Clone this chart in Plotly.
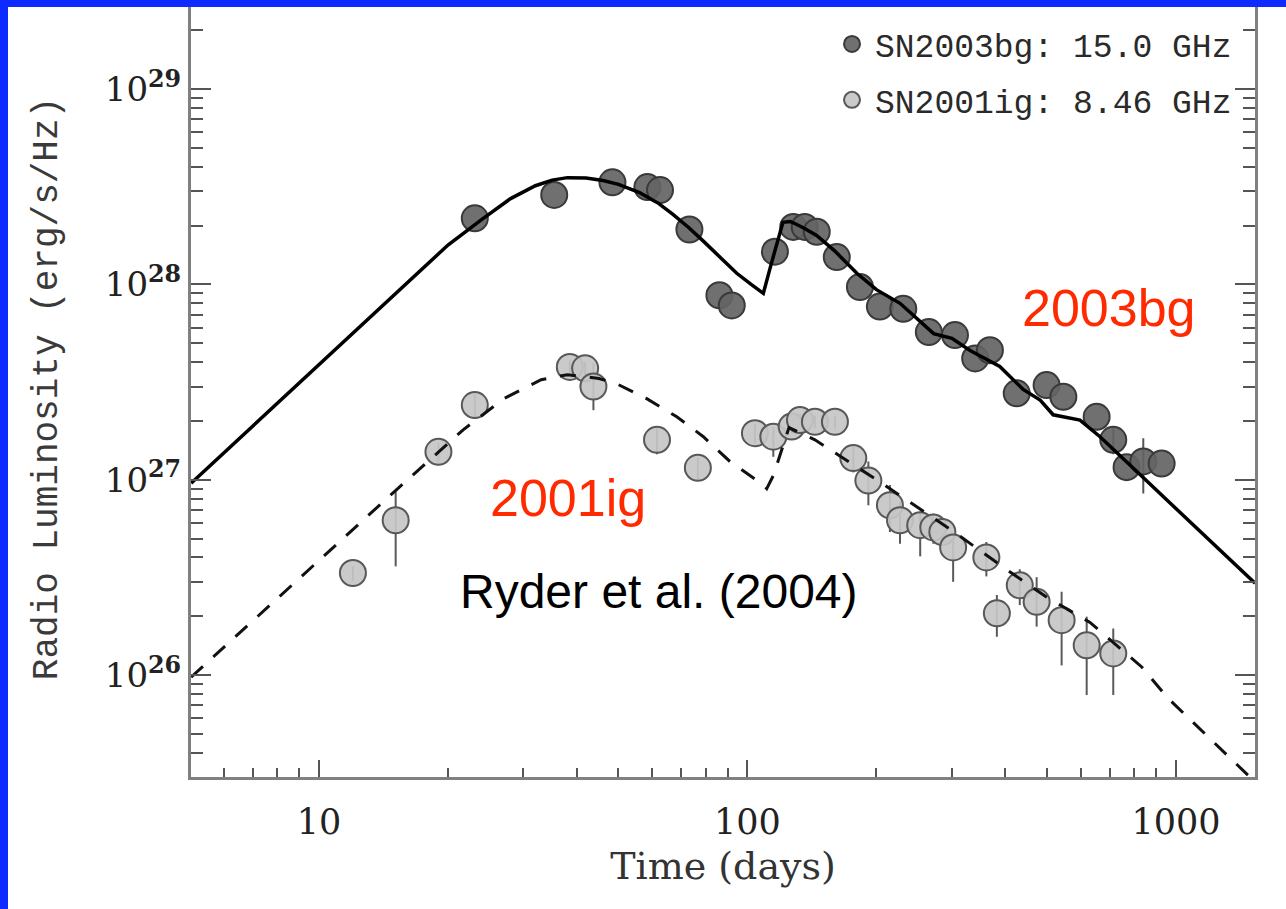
import plotly.graph_objects as go

# ---------------- data ----------------
# SN2003bg, 15.0 GHz
bg_days = [23.1, 35.4, 48.4, 58.4, 62.5, 73.2, 86.0, 91.9, 115.9, 127.9, 136, 145.1,
           161.6, 183, 203.7, 231, 265, 305, 340, 368, 425, 499, 546, 653, 714,
           767, 839, 926]
bg_lum = [2.18e28, 2.87e28, 3.33e28, 3.15e28, 3.04e28, 1.91e28, 8.8e27, 7.8e27,
          1.47e28, 1.97e28, 1.97e28, 1.86e28, 1.38e28, 9.7e27, 7.7e27, 7.5e27,
          5.7e27, 5.5e27, 4.18e27, 4.6e27, 2.77e27, 3.05e27, 2.66e27, 2.1e27,
          1.6e27, 1.16e27, 1.24e27, 1.21e27]
bg_err_hi = [0, 0, 0, 0, 0, 0, 0, 0, 0, 0, 0, 0, 0, 0, 0, 0, 0, 0, 0, 0,
             0, 0, 0, 0, 0.25e27, 0, 0.39e27, 0]
bg_err_lo = [0, 0, 0, 0, 0, 0, 0, 0, 0, 0, 0, 0, 0, 0, 0, 0, 0, 0, 0, 0,
             0, 0, 0, 0, 0.25e27, 0, 0.39e27, 0]

# SN2001ig, 8.46 GHz
ig_days = [12.0, 15.1, 19.0, 23.1, 38.5, 41.8, 43.7, 61.5, 76.6, 104.1, 114.9,
           126.8, 132.6, 143.7, 160, 176.6, 191.5, 215, 227, 253, 271.5, 285,
           302, 361, 382, 432, 473, 541, 619, 714]
ig_lum = [3.33e26, 6.2e26, 1.39e27, 2.41e27, 3.78e27, 3.72e27, 3.0e27, 1.6e27,
          1.15e27, 1.73e27, 1.66e27, 1.87e27, 2.02e27, 1.98e27, 1.98e27, 1.29e27,
          9.9e26, 7.4e26, 6.2e26, 5.85e26, 5.7e26, 5.4e26, 4.5e26, 4.0e26,
          2.07e26, 2.88e26, 2.37e26, 1.91e26, 1.42e26, 1.29e26]
ig_err_hi = [0.3e26, 2.5e26, 1.5e26, 3.5e26, 3.0e26, 3.0e26, 9.6e26, 2.5e26,
             1.5e26, 2.0e26, 2.0e26, 1.5e26, 1.5e26, 1.5e26, 1.5e26, 2.0e26,
             2.5e26, 2.0e26, 1.5e26, 1.0e26, 1.0e26, 0.8e26, 0.6e26, 0.8e26,
             0.5e26, 0.6e26, 0.8e26, 0.76e26, 0.57e26, 0.44e26]
ig_err_lo = [0.3e26, 2.6e26, 1.5e26, 3.5e26, 3.0e26, 3.0e26, 7.3e26, 2.5e26,
             1.5e26, 2.0e26, 3.5e26, 1.5e26, 1.5e26, 1.5e26, 1.5e26, 2.0e26,
             2.5e26, 2.0e26, 1.5e26, 1.8e26, 1.0e26, 0.8e26, 1.5e26, 0.8e26,
             0.5e26, 0.6e26, 0.6e26, 0.79e26, 0.63e26, 0.50e26]

# model light curves
bg_model_days = [5.03, 10, 15, 20, 24, 28, 32, 35, 38, 42, 46, 50, 56, 62, 67, 73,
                 79, 86, 94.4, 102, 108.9, 113.6, 121, 126, 135, 145, 160, 180,
                 200, 227, 250, 272, 300, 330, 388, 440, 482, 517, 597, 665, 800,
                 986, 1200, 1530]
bg_model_lum = [9.6e26, 3.88e27, 8.85e27, 1.59e28, 2.15e28, 2.75e28, 3.2e28, 3.42e28,
                3.52e28, 3.5e28, 3.4e28, 3.25e28, 2.95e28, 2.6e28, 2.28e28, 1.95e28,
                1.66e28, 1.38e28, 1.14e28, 1.0e28, 9.0e27, 1.27e28, 2.08e28, 2.1e28,
                1.95e28, 1.78e28, 1.48e28, 1.14e28, 9.4e27, 8.0e27, 6.6e27, 5.6e27,
                5.3e27, 4.6e27, 3.8e27, 2.9e27, 2.56e27, 2.15e27, 2.02e27, 1.66e27,
                1.13e27, 7.35e26, 4.9e26, 2.95e26]

ig_model_days = [5.03, 10, 15, 21.7, 27, 33, 38, 45, 49.5, 58.2, 68.4, 78.9, 91,
                 108.9, 110.9, 114.9, 125, 143.7, 200, 300, 400, 500, 630, 832,
                 953, 1072, 1489]
ig_model_lum = [9.75e25, 3.86e26, 8.7e26, 1.8e27, 2.6e27, 3.25e27, 3.45e27, 3.3e27,
                3.1e27, 2.6e27, 2.1e27, 1.66e27, 1.24e27, 9.4e26, 9.0e26, 1.05e27,
                1.85e27, 1.6e27, 1.0e27, 5.5e26, 3.5e26, 2.5e26, 1.86e26, 1.1e26,
                7.7e25, 6.0e25, 3.0e25]

# axis ticks
x_tickvals = [10, 100, 1000]
x_ticktext = ["10", "100", "1000"]
x_minor = [6, 7, 8, 9, 20, 30, 40, 50, 60, 70, 80, 90,
           200, 300, 400, 500, 600, 700, 800, 900]
y_tickvals = [1e26, 1e27, 1e28, 1e29]
y_ticktext = ["10<sup><b>26</b></sup>", "10<sup><b>27</b></sup>",
              "10<sup><b>28</b></sup>", "10<sup><b>29</b></sup>"]
y_minor = [3e25, 4e25, 5e25, 6e25, 7e25, 8e25, 9e25,
           2e26, 3e26, 4e26, 5e26, 6e26, 7e26, 8e26, 9e26,
           2e27, 3e27, 4e27, 5e27, 6e27, 7e27, 8e27, 9e27,
           2e28, 3e28, 4e28, 5e28, 6e28, 7e28, 8e28, 9e28, 2e29]

# ---------------- figure ----------------
W, H = 1286, 909
ML, MR, MT, MB = 191, 31, 0, 132
PW, PH = W - ML - MR, H - MT - MB

fig = go.Figure()

fig.add_trace(go.Scatter(
    x=bg_days, y=bg_lum, mode="markers", name="SN2003bg: 15.0 GHz",
    legendgroup="a",
    marker=dict(size=26, color="rgba(100,100,100,0.92)",
                line=dict(color="#3a3a3a", width=2)),
    error_y=dict(type="data", symmetric=False, array=bg_err_hi,
                 arrayminus=bg_err_lo, color="#555555", thickness=2, width=0),
))
fig.add_trace(go.Scatter(
    x=ig_days, y=ig_lum, mode="markers", name="SN2001ig: 8.46 GHz",
    legendgroup="b",
    marker=dict(size=26, color="rgba(198,198,198,0.92)",
                line=dict(color="#585858", width=2)),
    error_y=dict(type="data", symmetric=False, array=ig_err_hi,
                 arrayminus=ig_err_lo, color="#5a5a5a", thickness=2, width=0),
))
fig.add_trace(go.Scatter(
    x=bg_model_days, y=bg_model_lum, mode="lines", showlegend=False,
    line=dict(color="black", width=3.5),
))
fig.add_trace(go.Scatter(
    x=ig_model_days, y=ig_model_lum, mode="lines", showlegend=False,
    line=dict(color="#111111", width=3, dash="16px,14px"),
))

def px_x(p):
    return (p - ML) / PW

def px_y(p):
    return 1 - (p - MT) / PH

fig.update_xaxes(
    type="log", range=[0.7013, 3.1845],
    showline=True, linecolor="#808080", linewidth=3, mirror=False,
    ticks="inside", ticklen=17, tickwidth=2, tickcolor="#555555",
    tickmode="array", tickvals=x_tickvals, ticktext=x_ticktext,
    tickfont=dict(family="DejaVu Serif", size=35, color="#222222"),
    ticklabelstandoff=12,
    showgrid=False, zeroline=False,
    minor=dict(ticks="inside", ticklen=9, tickwidth=2, tickcolor="#555555",
               tickmode="array", tickvals=x_minor, showgrid=False),
    title=dict(text="Time (days)", font=dict(family="DejaVu Serif", size=38,
                                             color="#333333"), standoff=12),
)
fig.update_yaxes(
    type="log", range=[25.478, 29.456],
    showline=True, linecolor="#808080", linewidth=3, mirror="ticks",
    ticks="inside", ticklen=20, tickwidth=2, tickcolor="#555555",
    tickmode="array", tickvals=y_tickvals, ticktext=y_ticktext,
    tickfont=dict(family="DejaVu Serif", size=34, color="#222222"),
    showgrid=False, zeroline=False,
    minor=dict(ticks="inside", ticklen=12, tickwidth=2, tickcolor="#555555",
               tickmode="array", tickvals=y_minor, showgrid=False),
    title=dict(text="Radio Luminosity (erg/s/Hz)",
               font=dict(family="Liberation Mono", size=36, color="#3a3a3a"),
               standoff=37),
)

fig.add_annotation(xref="paper", yref="paper", x=px_x(1020), y=px_y(308),
                   xanchor="left", yanchor="middle", showarrow=False,
                   text="2003bg",
                   font=dict(family="Liberation Sans", size=52, color="#ff2a00"))
fig.add_annotation(xref="paper", yref="paper", x=px_x(488), y=px_y(498),
                   xanchor="left", yanchor="middle", showarrow=False,
                   text="2001ig",
                   font=dict(family="Liberation Sans", size=52, color="#ff2a00"))
fig.add_annotation(xref="paper", yref="paper", x=px_x(458), y=px_y(591),
                   xanchor="left", yanchor="middle", showarrow=False,
                   text="Ryder et al. (2004)",
                   font=dict(family="Liberation Sans", size=48, color="#000000"))

blue = "#0d2bff"
fig.add_shape(type="rect", xref="paper", yref="paper", layer="above",
              x0=px_x(-5), x1=px_x(8), y0=px_y(H + 5), y1=px_y(-5),
              fillcolor=blue, line=dict(width=0))
fig.add_shape(type="rect", xref="paper", yref="paper", layer="above",
              x0=px_x(-5), x1=px_x(W + 5), y0=px_y(7), y1=px_y(-5),
              fillcolor=blue, line=dict(width=0))

fig.update_layout(
    width=W, height=H,
    margin=dict(l=ML, r=MR, t=MT, b=MB, pad=0),
    paper_bgcolor="white", plot_bgcolor="white",
    showlegend=True,
    legend=dict(x=px_x(829), y=px_y(16), xanchor="left", yanchor="top",
                bgcolor="rgba(0,0,0,0)", traceorder="grouped",
                tracegroupgap=10, itemwidth=36,
                font=dict(family="Liberation Mono", size=33, color="#2a2a2a")),
)

fig.write_html("out.html")
